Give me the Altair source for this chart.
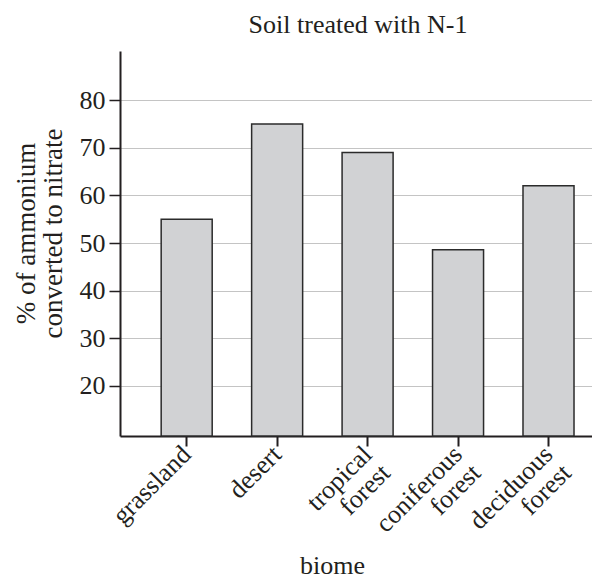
import altair as alt
import pandas as pd

biomes = ["grassland", "desert", "tropical|forest", "coniferous|forest", "deciduous|forest"]
values = [55, 75, 69, 48.6, 62]
y_ticks = [20, 30, 40, 50, 60, 70, 80]
y_domain = [9.5, 90.3]
chart_title = ["Soil treated with N-1"]

df = pd.DataFrame({"biome": biomes, "value": values})
FONT = "Liberation Serif"
INK = "#231f20"
W, H = 472, 385

bars = alt.Chart(df).mark_bar(
    fill="#d1d2d4", stroke="#2b2b2b", strokeWidth=1.5
).encode(
    x=alt.X(
        "biome:N",
        sort=biomes,
        scale=alt.Scale(paddingInner=0.436, paddingOuter=0.327, align=0.696),
        axis=alt.Axis(
            title="biome",
            labelExpr="split(datum.label, '|')",
            labelAngle=-45,
            labelAlign="right",
            labelBaseline="middle",
            labelFont=FONT,
            labelFontSize=26,
            labelColor=INK,
            labelPadding=4,
            labelLineHeight=26,
            labelOverlap=False,
            labelBound=False,
            labelFlush=False,
            tickSize=10,
            tickWidth=2,
            tickColor=INK,
            domainColor=INK,
            domainWidth=2,
            grid=False,
            titleFont=FONT,
            titleFontSize=26,
            titleFontWeight="normal",
            titleColor=INK,
            titleX=212,
            titleY=137,
            titleAlign="center",
            titleBaseline="alphabetic",
        ),
    ),
    y=alt.Y(
        "value:Q",
        scale=alt.Scale(domain=y_domain, nice=False, zero=False),
        axis=alt.Axis(
            title=["% of ammonium", "converted to nitrate"],
            values=y_ticks,
            labelFont=FONT,
            labelFontSize=26,
            labelColor=INK,
            labelPadding=4,
            tickSize=11,
            tickWidth=1.5,
            tickColor=INK,
            domainColor=INK,
            domainWidth=2,
            grid=True,
            gridColor="#c4c4c4",
            gridWidth=1.2,
            titleFont=FONT,
            titleFontSize=27,
            titleFontWeight="normal",
            titleColor=INK,
            titlePadding=12,
            titleLineHeight=27,
            titleY=182,
        ),
    ),
    y2=alt.datum(y_domain[0]),
)

title = alt.Chart(pd.DataFrame({"t": chart_title})).mark_text(
    font=FONT, fontSize=26, color=INK, align="center", baseline="alphabetic"
).encode(
    x=alt.value(W / 2 + 2),
    y=alt.value(-18),
    text="t:N",
)

chart = alt.layer(bars, title).properties(
    width=W,
    height=H,
    autosize=alt.AutoSizeParams(type="none"),
    padding={"left": 112, "top": 43, "right": 0, "bottom": 144},
).configure_view(stroke=None)

chart.save("out.html", embed_options={"renderer": "svg", "actions": False})
